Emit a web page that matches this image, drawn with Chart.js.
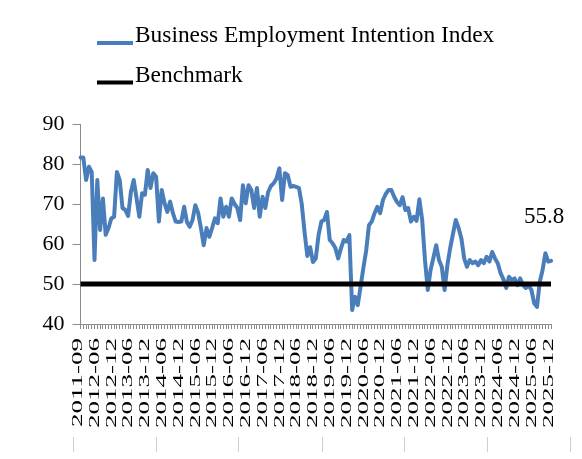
<!DOCTYPE html>
<html>
<head>
<meta charset="utf-8">
<script src="https://cdn.jsdelivr.net/npm/chart.js@4"></script>
<style>
  html, body { margin: 0; padding: 0; background: #ffffff; }
  canvas { display: block; }
</style>
</head>
<body>
<canvas id="c" width="582" height="459"></canvas>
<script>
// ---- Categories (survey months) ----
const firstMonths = ['2011-09', '2011-12', '2012-02', '2012-03', '2012-04', '2012-05', '2012-06'];
const categories = (function () {
  const out = firstMonths.slice();
  for (let y = 2012; y <= 2025; y++) {
    for (let m = (y === 2012 ? 7 : 1); m <= 12; m++) {
      out.push(y + '-' + String(m).padStart(2, '0'));
    }
  }
  return out;
})();

// ---- Tick labels shown on the x axis ----
const tickLabels = [
  '2011-09', '2012-06', '2012-12', '2013-06', '2013-12', '2014-06', '2014-12',
  '2015-06', '2015-12', '2016-06', '2016-12', '2017-06', '2017-12', '2018-06',
  '2018-12', '2019-06', '2019-12', '2020-06', '2020-12', '2021-06', '2021-12',
  '2022-06', '2022-12', '2023-06', '2023-12', '2024-06', '2024-12', '2025-06', '2025-12'
];
const yTicks = [40, 50, 60, 70, 80, 90];

// ---- Business Employment Intention Index, by year ----
const v2011_2012 = [81.6, 81.6, 76, 79.3, 78, 56, 76, 63.5, 71.4, 62.3, 64, 66.4, 66.8];
const v2013 = [78, 76, 69, 68.5, 67, 73, 76, 71.5, 66.8, 72.7, 72.3, 78.5];
const v2014 = [74, 77.7, 76.8, 65.6, 73.5, 70.2, 68, 70.6, 67.7, 65.6, 65.5, 65.6];
const v2015 = [69.3, 65.5, 64.3, 66, 69.7, 67.8, 64, 59.7, 64, 61.8, 64, 66.4];
const v2016 = [65.2, 71.4, 66.8, 69.3, 66.8, 71.4, 70, 69, 66, 74.7, 70.2, 74.7];
const v2017 = [73.5, 69, 74, 66.8, 71.8, 69, 73, 74.5, 75.2, 76.4, 78.9, 71];
const v2018 = [77.7, 77.2, 74.3, 74.5, 74.3, 74, 70, 63, 57, 59.2, 55.5, 56.4];
const v2019 = [62.2, 65.6, 66, 68, 61, 60.2, 59, 56.4, 58.9, 61, 60.6, 62.2];
const v2020 = [43.5, 46.8, 44.7, 49.3, 54, 58.3, 64.7, 65.6, 67.7, 69.3, 67.7, 71];
const v2021 = [72.5, 73.5, 73.5, 71.8, 70.5, 69.7, 71.7, 68.5, 69, 65.6, 66.8, 65.8];
const v2022 = [71.2, 66, 56, 48.5, 53.5, 56.5, 59.7, 56, 54.3, 48.5, 54.7, 59];
const v2023 = [62.5, 66, 64, 61.4, 56.4, 54.3, 56, 55.2, 55.6, 54.7, 56, 55.2];
const v2024 = [56.8, 55.6, 58, 56.4, 55.2, 52.7, 51.2, 49, 51.8, 51, 51.4, 49.7];
const v2025 = [51.4, 49.7, 49, 49.7, 48.5, 45.2, 44.3, 50.6, 53.5, 57.7, 55.6, 55.8];

const indexValues = [].concat(v2011_2012, v2013, v2014, v2015, v2016, v2017, v2018,
  v2019, v2020, v2021, v2022, v2023, v2024, v2025);

const benchmarkValue = 50;
const seriesNames = ['Business Employment Intention Index', 'Benchmark'];

const SERIF = '"Liberation Serif", "Times New Roman", serif';
const AXIS_GREY = '#8c8c8c';
const BLUE = '#4a7ebb';

// Custom drawing: rotated (stretched) x labels, legend, last value label, bottom rules
const decorPlugin = {
  id: 'decor',
  afterDraw(chart) {
    const ctx = chart.ctx;
    const xs = chart.scales.x;
    const ys = chart.scales.y;

    // x tick labels
    ctx.save();
    ctx.fillStyle = '#000';
    ctx.font = '15px ' + SERIF;
    ctx.textAlign = 'right';
    ctx.textBaseline = 'alphabetic';
    tickLabels.forEach(lbl => {
      const idx = categories.indexOf(lbl);
      if (idx < 0) return;
      const px = xs.getPixelForValue(idx);
      ctx.save();
      ctx.translate(px + 1.5, 338);
      ctx.rotate(-Math.PI / 2);
      ctx.scale(1.8, 1);
      ctx.fillText(lbl, 0, 0);
      ctx.restore();
    });
    ctx.restore();

    // legend
    const ds = chart.data.datasets;
    const legendRows = [
      { ds: ds[0], lineY: 43, textY: 42 },
      { ds: ds[1], lineY: 82.5, textY: 81.5 }
    ];
    ctx.save();
    ctx.font = '23.4px ' + SERIF;
    ctx.textAlign = 'left';
    ctx.textBaseline = 'alphabetic';
    legendRows.forEach(r => {
      ctx.strokeStyle = r.ds.borderColor;
      ctx.lineWidth = 4;
      ctx.lineCap = 'butt';
      ctx.beginPath();
      ctx.moveTo(97, r.lineY);
      ctx.lineTo(133, r.lineY);
      ctx.stroke();
      ctx.fillStyle = '#000';
      ctx.fillText(r.ds.label, 135, r.textY);
    });
    ctx.restore();

    // last value label
    const lastIdx = indexValues.length - 1;
    const lx = xs.getPixelForValue(lastIdx);
    const ly = ys.getPixelForValue(indexValues[lastIdx]);
    ctx.save();
    ctx.font = '23px ' + SERIF;
    ctx.fillStyle = '#000';
    ctx.textAlign = 'left';
    ctx.textBaseline = 'alphabetic';
    ctx.fillText(indexValues[lastIdx].toFixed(1), lx - 27, ly - 38);
    ctx.restore();

    // faint bottom rules
    ctx.save();
    ctx.strokeStyle = '#cfcfcf';
    ctx.lineWidth = 1;
    [73, 156, 238, 322, 404, 487, 570].forEach(x => {
      ctx.beginPath();
      ctx.moveTo(x + 0.5, 437);
      ctx.lineTo(x + 0.5, 452);
      ctx.stroke();
    });
    ctx.restore();
  }
};

new Chart(document.getElementById('c'), {
  type: 'line',
  data: {
    labels: categories,
    datasets: [
      {
        label: seriesNames[0],
        data: indexValues,
        borderColor: BLUE,
        backgroundColor: BLUE,
        borderWidth: 4,
        pointRadius: 0,
        tension: 0,
        borderJoinStyle: 'round',
        borderCapStyle: 'round',
        order: 2
      },
      {
        label: seriesNames[1],
        data: [
          { x: categories[0], y: benchmarkValue },
          { x: categories[categories.length - 1], y: benchmarkValue }
        ],
        borderColor: '#000000',
        backgroundColor: '#000000',
        borderWidth: 5,
        pointRadius: 0,
        tension: 0,
        order: 1
      }
    ]
  },
  options: {
    responsive: false,
    animation: false,
    events: [],
    layout: { padding: { top: 124, right: 31, left: 0, bottom: 0 } },
    plugins: {
      legend: { display: false },
      tooltip: { enabled: false },
      title: { display: false }
    },
    scales: {
      x: {
        type: 'category',
        offset: false,
        ticks: { display: false, autoSkip: false },
        grid: {
          display: true,
          drawOnChartArea: false,
          drawTicks: true,
          tickLength: 5,
          color: AXIS_GREY,
          offset: false
        },
        border: { display: true, color: AXIS_GREY, width: 1 },
        afterFit(s) { s.height = 135; }
      },
      y: {
        min: 40,
        max: 90,
        afterBuildTicks(s) { s.ticks = yTicks.map(v => ({ value: v })); },
        ticks: {
          font: { family: SERIF, size: 22 },
          color: '#000',
          padding: 8
        },
        grid: {
          display: true,
          drawOnChartArea: false,
          drawTicks: true,
          tickLength: 8,
          color: AXIS_GREY
        },
        border: { display: true, color: AXIS_GREY, width: 1 },
        afterFit(s) { s.width = 80.5; }
      }
    }
  },
  plugins: [decorPlugin]
});
</script>
</body>
</html>
